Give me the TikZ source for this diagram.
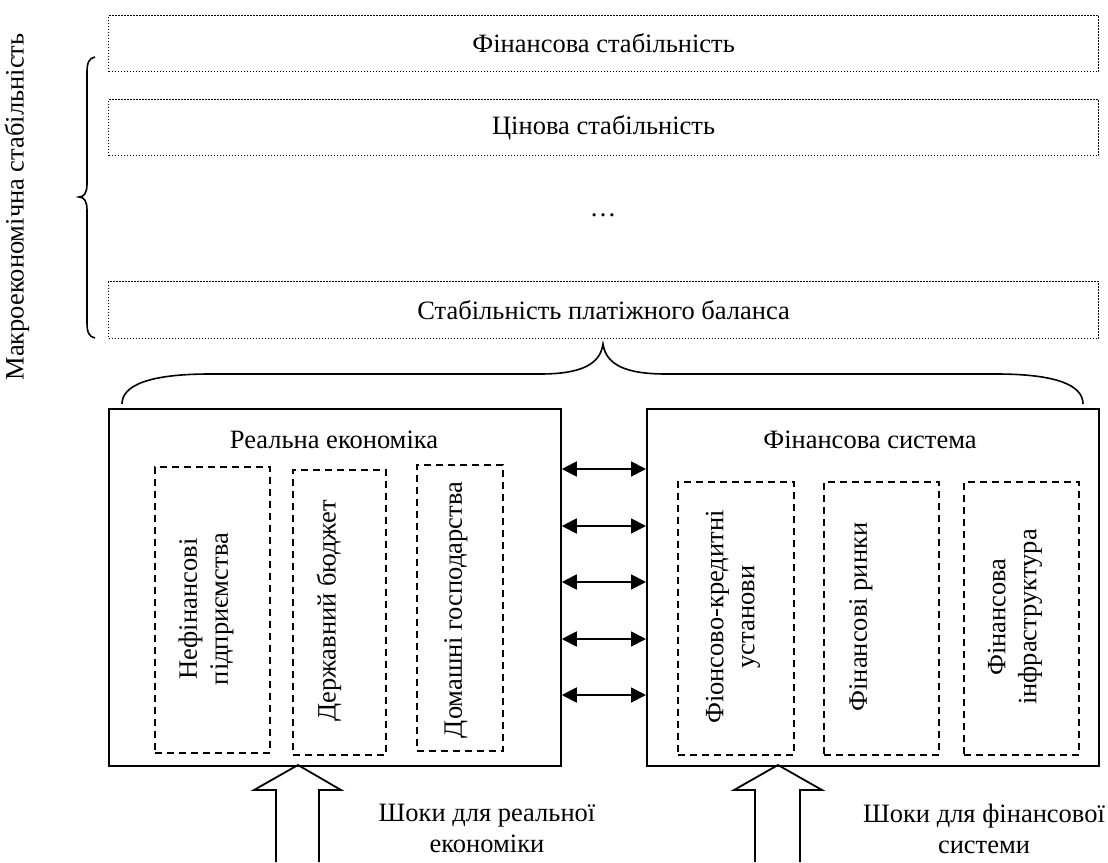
\documentclass[tikz,border=0pt]{standalone}
\usepackage{fontspec}
\setmainfont{Liberation Serif}
\usetikzlibrary{arrows.meta}
\tikzset{
  dotbox/.style={draw, line width=1.2pt, dash pattern=on 1.2pt off 1.8pt, inner sep=0pt, anchor=north west},
  solidbox/.style={draw, line width=1.8pt, inner sep=0pt, anchor=north west},
  dashbox/.style={draw, line width=1.6pt, dash pattern=on 7pt off 5pt, inner sep=0pt, anchor=north west},
  lbl/.style={font=\fontsize{26.5}{31}\selectfont, align=center, inner sep=0pt},
  vlbl/.style={lbl, rotate=90},
  dbl/.style={line width=1.8pt, {Triangle[length=15pt,width=15pt]}-{Triangle[length=15pt,width=15pt]}},
  bracepath/.style={line width=1.6pt},
  blockarrow/.style={line width=1.8pt, line join=miter},
}
\begin{document}
\begin{tikzpicture}[x=1pt,y=-1pt]
\useasboundingbox[fill=white] (0,0) rectangle (1108,862);

% top dotted boxes
\node[dotbox, minimum width=990pt, minimum height=56pt] (fs) at (108,15) {};
\node[lbl] at (fs.center) {Фінансова стабільність};
\node[dotbox, minimum width=990pt, minimum height=56pt] (cs) at (108,99) {};
\node[lbl] at (cs.center) {Цінова стабільність};
\node[lbl] (dots) at (603,215) {…};
\node[dotbox, minimum width=990pt, minimum height=57pt] (pb) at (108,281) {};
\node[lbl] at (pb.center) {Стабільність платіжного баланса};

% left brace and label
\draw[bracepath] (95,57) .. controls (89,58) and (87,63) .. (87,72) -- (87,184)
  .. controls (87,193) and (84,197) .. (79,197)
  .. controls (84,197) and (87,201) .. (87,210) -- (87,323)
  .. controls (87,332) and (89,337) .. (95,338);
\node[vlbl] (macro) at (17,207) {Макроекономічна стабільність};

% bottom brace
\draw[bracepath] (122,404) .. controls (122,385) and (150,374) .. (210,374) -- (540,374)
  .. controls (580,374) and (600,365) .. (603,344)
  .. controls (606,365) and (626,374) .. (666,374) -- (996,374)
  .. controls (1056,374) and (1083,385) .. (1083,404);

% main boxes
\node[solidbox, minimum width=452pt, minimum height=357pt] (L) at (108,408) {};
\node[lbl] (Lt) at (334,440) {Реальна економіка};
\node[solidbox, minimum width=452pt, minimum height=357pt] (R) at (646,408) {};
\node[lbl] (Rt) at (870,440) {Фінансова система};

% dashed sub-boxes, real economy
\node[dashbox, minimum width=115pt, minimum height=286pt] (A) at (154,466) {};
\node[vlbl] at (206,609) {Нефінансові\\підприємства};
\node[dashbox, minimum width=93pt, minimum height=285pt] (B) at (292,469) {};
\node[vlbl] at (329,611) {Державний бюджет};
\node[dashbox, minimum width=86pt, minimum height=286pt] (C) at (416,464) {};
\node[vlbl] at (456,610) {Домашні господарства};

% dashed sub-boxes, financial system
\node[dashbox, minimum width=116pt, minimum height=273pt] (D) at (677,481) {};
\node[vlbl] at (733,617) {Фіонсово-кредитні\\установи};
\node[dashbox, minimum width=115pt, minimum height=273pt] (E) at (823,481) {};
\node[vlbl] at (861,617) {Фінансові ринки};
\node[dashbox, minimum width=115pt, minimum height=273pt] (F) at (963,481) {};
\node[vlbl] at (1015,617) {Фінансова\\інфраструктура};

% double arrows
\foreach \yy in {469,526,582,639,695}{
  \draw[dbl] (L.east |- 0,\yy) -- (R.west |- 0,\yy);
}

% block arrows (shocks)
\draw[blockarrow] (276,862) -- (276,790) -- (254,790) -- (298,765) -- (341,790) -- (319,790) -- (319,862);
\draw[blockarrow] (755,862) -- (755,790) -- (734,790) -- (778,765) -- (822,790) -- (800,790) -- (800,862);

\node[lbl] (sh1) at (487,828) {Шоки для реальної\\економіки};
\node[lbl] (sh2) at (984,829) {Шоки для фінансової\\системи};
\end{tikzpicture}
\end{document}
